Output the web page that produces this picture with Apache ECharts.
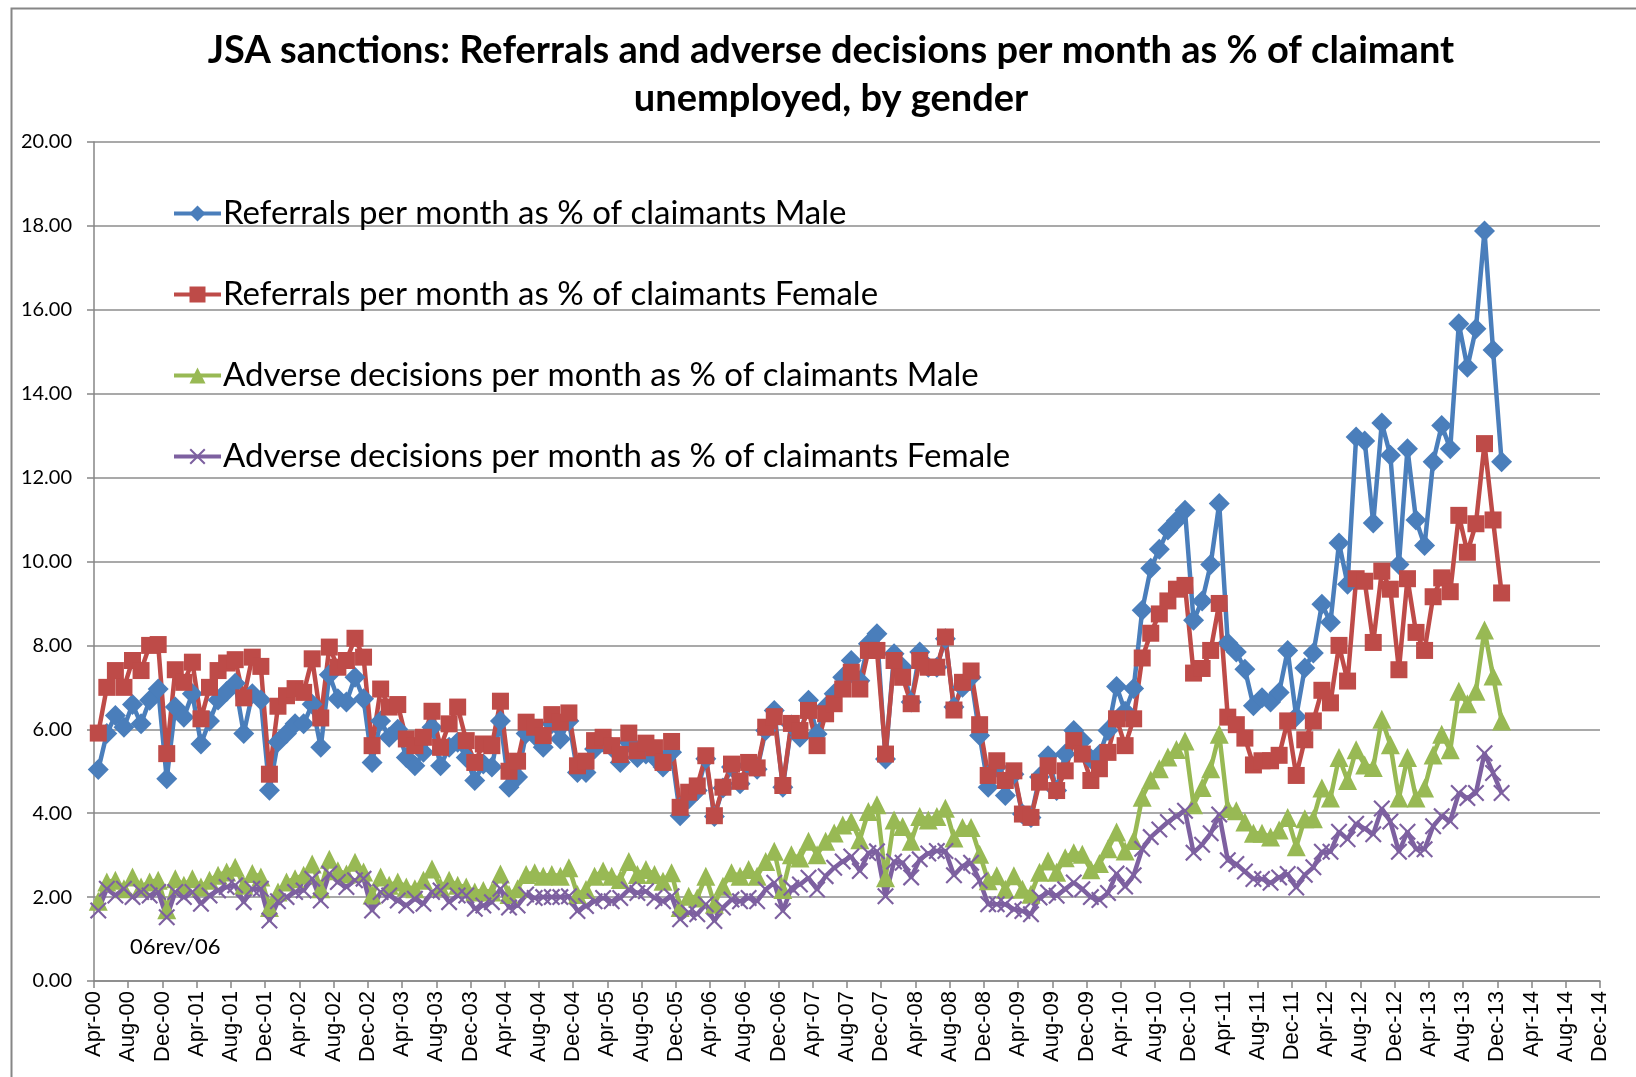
<!DOCTYPE html>
<html lang="en">
<head>
<meta charset="UTF-8">
<title>JSA sanctions by gender</title>
<script src="https://cdn.jsdelivr.net/npm/echarts@6/dist/echarts.min.js"></script>
<style>
    html, body { margin: 0; padding: 0; background: #fff; }
    #container { width: 1636px; height: 1077px; }
</style>
</head>
<body>
<div id="container"></div>
<script type="text/javascript">
    // monthly values, Apr-00 .. Dec-13 (165 months)
    var referralsMale = [
        5.04, 5.9, 6.33, 6.05, 6.59, 6.13, 6.69, 6.96, 4.82, 6.53, 6.29, 6.85, 5.65, 6.2, 6.7, 6.9, 7.1, 5.9, 6.85, 6.7, 4.55, 5.7, 5.9, 6.13,
        6.13, 6.6, 5.57, 7.3, 6.73, 6.65, 7.24, 6.73, 5.21, 6.2, 5.81, 6.0, 5.33, 5.13, 5.45, 6.05, 5.13, 5.57, 5.69, 5.33, 4.78, 5.17, 5.1, 6.2,
        4.62, 4.86, 5.9, 5.85, 5.57, 6.13, 5.77, 6.2, 4.97, 4.97, 5.53, 5.69, 5.57, 5.21, 5.69, 5.33, 5.41, 5.33, 5.1, 5.45, 3.94, 4.34, 4.54,
        5.3, 3.92, 4.6, 5.1, 4.7, 5.15, 5.05, 5.97, 6.45, 4.62, 6.1, 5.81, 6.69, 5.89, 6.53, 6.85, 7.24, 7.64, 7.16, 8.04, 8.28, 5.29, 7.8,
        7.48, 6.65, 7.84, 7.48, 7.48, 8.16, 6.53, 7.0, 7.24, 5.85, 4.62, 5.1, 4.42, 4.93, 3.98, 3.9, 4.86, 5.37, 4.54, 5.41, 5.97, 5.73, 5.3,
        5.4, 5.97, 7.02, 6.43, 6.97, 8.84, 9.84, 10.29, 10.75, 10.97, 11.22, 8.6, 9.06, 9.93, 11.38, 8.06, 7.84, 7.43, 6.56, 6.75, 6.65, 6.88,
        7.88, 6.3, 7.46, 7.82, 8.98, 8.55, 10.44, 9.46, 12.97, 12.87, 10.92, 13.3, 12.53, 9.93, 12.69, 10.99, 10.38, 12.38, 13.24, 12.69, 15.67, 14.63, 15.55, 17.88, 15.04, 12.38
    ];
    var referralsFemale = [
        5.91, 7.0, 7.4, 7.0, 7.64, 7.4, 8.0, 8.02, 5.42, 7.42, 7.12, 7.6, 6.25, 7.0, 7.4, 7.58, 7.66, 6.75, 7.72, 7.5, 4.93, 6.55, 6.8, 6.97,
        6.88, 7.68, 6.27, 7.96, 7.48, 7.64, 8.17, 7.72, 5.61, 6.96, 6.53, 6.59, 5.77, 5.61, 5.81, 6.43, 5.57, 6.13, 6.53, 5.73, 5.21, 5.65, 5.61, 6.67,
        5.0, 5.24, 6.17, 6.05, 5.85, 6.35, 6.17, 6.39, 5.13, 5.24, 5.73, 5.81, 5.61, 5.4, 5.91, 5.49, 5.67, 5.56, 5.21, 5.71, 4.14, 4.5, 4.65,
        5.37, 3.94, 4.62, 5.17, 4.76, 5.21, 5.08, 6.05, 6.3, 4.66, 6.14, 5.97, 6.45, 5.61, 6.37, 6.61, 6.96, 7.36, 6.96, 7.88, 7.88, 5.41, 7.64,
        7.24, 6.61, 7.64, 7.48, 7.48, 8.2, 6.46, 7.12, 7.39, 6.11, 4.9, 5.25, 4.78, 5.01, 3.98, 3.9, 4.74, 5.13, 4.54, 5.01, 5.73, 5.41, 4.78,
        5.06, 5.45, 6.25, 5.61, 6.25, 7.7, 8.29, 8.75, 9.06, 9.34, 9.43, 7.34, 7.45, 7.88, 9.0, 6.29, 6.11, 5.79, 5.15, 5.25, 5.25, 5.38,
        6.2, 4.9, 5.75, 6.2, 6.93, 6.63, 8.0, 7.15, 9.59, 9.53, 8.07, 9.77, 9.34, 7.42, 9.59, 8.31, 7.88, 9.16, 9.61, 9.28, 11.1, 10.22, 10.9, 12.81, 10.99, 9.25
    ];
    var adverseMale = [
        1.9, 2.36, 2.4, 2.2, 2.48, 2.24, 2.36, 2.4, 1.7, 2.44, 2.28, 2.44, 2.24, 2.4, 2.52, 2.6, 2.71, 2.28, 2.56, 2.48, 1.75, 2.12, 2.36, 2.44,
        2.52, 2.79, 2.2, 2.9, 2.63, 2.55, 2.83, 2.6, 2.05, 2.48, 2.28, 2.36, 2.24, 2.2, 2.4, 2.67, 2.24, 2.4, 2.28, 2.24, 2.12, 2.16, 2.12, 2.55,
        2.06, 2.2, 2.54, 2.58, 2.5, 2.54, 2.5, 2.7, 2.06, 2.18, 2.5, 2.62, 2.5, 2.42, 2.85, 2.54, 2.66, 2.54, 2.38, 2.58, 1.75, 2.02, 1.98,
        2.5, 1.83, 2.26, 2.58, 2.5, 2.66, 2.5, 2.85, 3.09, 2.18, 3.01, 2.93, 3.33, 3.01, 3.33, 3.53, 3.72, 3.8, 3.37, 4.04, 4.2, 2.46, 3.84,
        3.68, 3.33, 3.92, 3.84, 3.92, 4.12, 3.41, 3.66, 3.66, 3.02, 2.39, 2.51, 2.19, 2.51, 2.19, 2.07, 2.59, 2.86, 2.59, 2.94, 3.06, 3.02, 2.65,
        2.8, 3.15, 3.55, 3.1, 3.35, 4.38, 4.79, 5.06, 5.34, 5.52, 5.72, 4.2, 4.61, 5.06, 5.88, 4.11, 4.06, 3.79, 3.52, 3.52, 3.43, 3.6,
        3.9, 3.2, 3.87, 3.87, 4.6, 4.36, 5.33, 4.78, 5.51, 5.15, 5.09, 6.24, 5.63, 4.36, 5.33, 4.36, 4.6, 5.39, 5.88, 5.51, 6.91, 6.61, 6.91, 8.37, 7.27, 6.2
    ];
    var adverseFemale = [
        1.68, 2.2, 2.04, 2.2, 2.0, 2.12, 2.04, 2.12, 1.52, 2.12, 2.0, 2.12, 1.84, 2.04, 2.16, 2.24, 2.28, 1.88, 2.2, 2.2, 1.44, 1.9, 2.0, 2.12,
        2.16, 2.44, 1.92, 2.56, 2.36, 2.24, 2.4, 2.44, 1.68, 2.12, 2.04, 1.92, 1.8, 1.96, 1.84, 2.12, 2.16, 1.88, 2.04, 2.04, 1.72, 1.8, 1.88, 2.2,
        1.75, 1.8, 2.06, 1.98, 2.0, 2.0, 2.0, 2.02, 1.67, 1.79, 1.9, 1.98, 1.9, 1.98, 2.18, 2.1, 2.14, 1.98, 1.9, 2.02, 1.47, 1.63, 1.59,
        1.83, 1.43, 1.75, 1.94, 1.9, 1.98, 1.9, 2.18, 2.34, 1.67, 2.22, 2.3, 2.46, 2.18, 2.5, 2.7, 2.85, 2.97, 2.62, 3.05, 3.09, 2.02, 2.85,
        2.82, 2.47, 2.9, 3.04, 3.1, 3.1, 2.52, 2.74, 2.82, 2.39, 1.83, 1.83, 1.83, 1.71, 1.67, 1.59, 1.99, 2.11, 2.03, 2.19, 2.35, 2.19, 2.0,
        1.93, 2.1, 2.56, 2.25, 2.52, 3.15, 3.43, 3.61, 3.79, 3.93, 4.06, 3.06, 3.25, 3.52, 3.97, 2.88, 2.79, 2.61, 2.43, 2.43, 2.34, 2.47,
        2.55, 2.23, 2.53, 2.71, 3.08, 3.08, 3.56, 3.38, 3.75, 3.63, 3.5, 4.11, 3.8, 3.08, 3.56, 3.14, 3.14, 3.69, 3.93, 3.81, 4.48, 4.36, 4.48, 5.43, 4.96, 4.48
    ];
    // x axis runs Apr-00 .. Dec-14, a label every 4 months
    var tickLabels = [
        'Apr-00','Aug-00','Dec-00','Apr-01','Aug-01','Dec-01','Apr-02','Aug-02','Dec-02',
        'Apr-03','Aug-03','Dec-03','Apr-04','Aug-04','Dec-04','Apr-05','Aug-05','Dec-05',
        'Apr-06','Aug-06','Dec-06','Apr-07','Aug-07','Dec-07','Apr-08','Aug-08','Dec-08',
        'Apr-09','Aug-09','Dec-09','Apr-10','Aug-10','Dec-10','Apr-11','Aug-11','Dec-11',
        'Apr-12','Aug-12','Dec-12','Apr-13','Aug-13','Dec-13','Apr-14','Aug-14','Dec-14'
    ];
    var seriesNames = [
        'Referrals per month as % of claimants Male',
        'Referrals per month as % of claimants Female',
        'Adverse decisions per month as % of claimants Male',
        'Adverse decisions per month as % of claimants Female'
    ];
    var colors = ['#4A7EBB', '#BE4B48', '#98B954', '#7D60A0'];

    var crossSymbol = 'path://M0,0.9 L0.9,0 L5,4.1 L9.1,0 L10,0.9 L5.9,5 L10,9.1 L9.1,10 L5,5.9 L0.9,10 L0,9.1 L4.1,5 Z';

    // each month sits in the middle of its slot on the month scale
    function toPoints(values) {
        return values.map(function (v, i) { return [i + 0.5, v]; });
    }

    function lineSeries(idx, values, symbol, size) {
        return {
            name: seriesNames[idx],
            type: 'line',
            data: toPoints(values),
            symbol: symbol,
            symbolSize: size,
            showAllSymbol: true,
            lineStyle: { color: colors[idx], width: 4.5 },
            itemStyle: { color: colors[idx] },
            emphasis: { disabled: true },
            animation: false
        };
    }

    var dom = document.getElementById('container');
    var myChart = echarts.init(dom, null, { renderer: 'canvas' });

    var option = {
        color: colors,
        title: {
            text: 'JSA sanctions: Referrals and adverse decisions per month as % of claimant\nunemployed, by gender',
            left: 826,
            top: 22,
            textAlign: 'center',
            textStyle: {
                fontFamily: 'Lato',
                fontWeight: 'bold',
                fontSize: 38,
                lineHeight: 48,
                color: '#000'
            }
        },
        legend: {
            orient: 'vertical',
            left: 167,
            top: 192,
            itemWidth: 47,
            itemHeight: 20,
            itemGap: 48,
            lineStyle: { width: 4 },
            textStyle: { fontFamily: 'Lato', fontSize: 33, lineHeight: 33, color: '#000', padding: [0, 0, 0, -3] },
            data: seriesNames
        },
        grid: {
            left: 94,
            right: 36,
            top: 142,
            bottom: 96,
            outerBoundsMode: 'none'
        },
        xAxis: {
            type: 'value',
            min: 0,
            max: 176,
            interval: 4,
            axisLine: { show: true, lineStyle: { color: '#868686', width: 1.5 } },
            axisTick: { show: true, length: 7, lineStyle: { color: '#868686', width: 1.5 } },
            splitLine: { show: false },
            axisLabel: {
                rotate: 90,
                margin: 10,
                fontFamily: 'Liberation Sans',
                fontSize: 22,
                color: '#000',
                formatter: function (v) { return tickLabels[Math.round(v / 4)] || ''; }
            }
        },
        yAxis: {
            type: 'value',
            min: 0,
            max: 20,
            interval: 2,
            axisLine: { show: true, lineStyle: { color: '#868686', width: 1.5 } },
            axisTick: { show: true, length: 7, lineStyle: { color: '#868686', width: 1.5 } },
            splitLine: { show: true, lineStyle: { color: '#8c8c8c', width: 1.5 } },
            axisLabel: {
                margin: 22,
                fontFamily: 'Lato',
                fontSize: 20,
                color: '#000',
                formatter: function (v) { return v.toFixed(2); }
            }
        },
        graphic: [
            {
                type: 'rect',
                left: 9,
                top: 6,
                shape: { width: 1660, height: 1120 },
                style: { fill: null, stroke: '#868686', lineWidth: 2 },
                silent: true
            },
            {
                type: 'text',
                left: 130,
                top: 936,
                style: { text: '06rev/06', font: '22px Lato', fill: '#000' },
                silent: true
            }
        ],
        series: [
            lineSeries(0, referralsMale, 'diamond', 21),
            lineSeries(1, referralsFemale, 'rect', 17),
            lineSeries(2, adverseMale, 'triangle', 19),
            lineSeries(3, adverseFemale, crossSymbol, 17)
        ]
    };
    myChart.setOption(option);
    window.addEventListener('resize', myChart.resize);
</script>
</body>
</html>
